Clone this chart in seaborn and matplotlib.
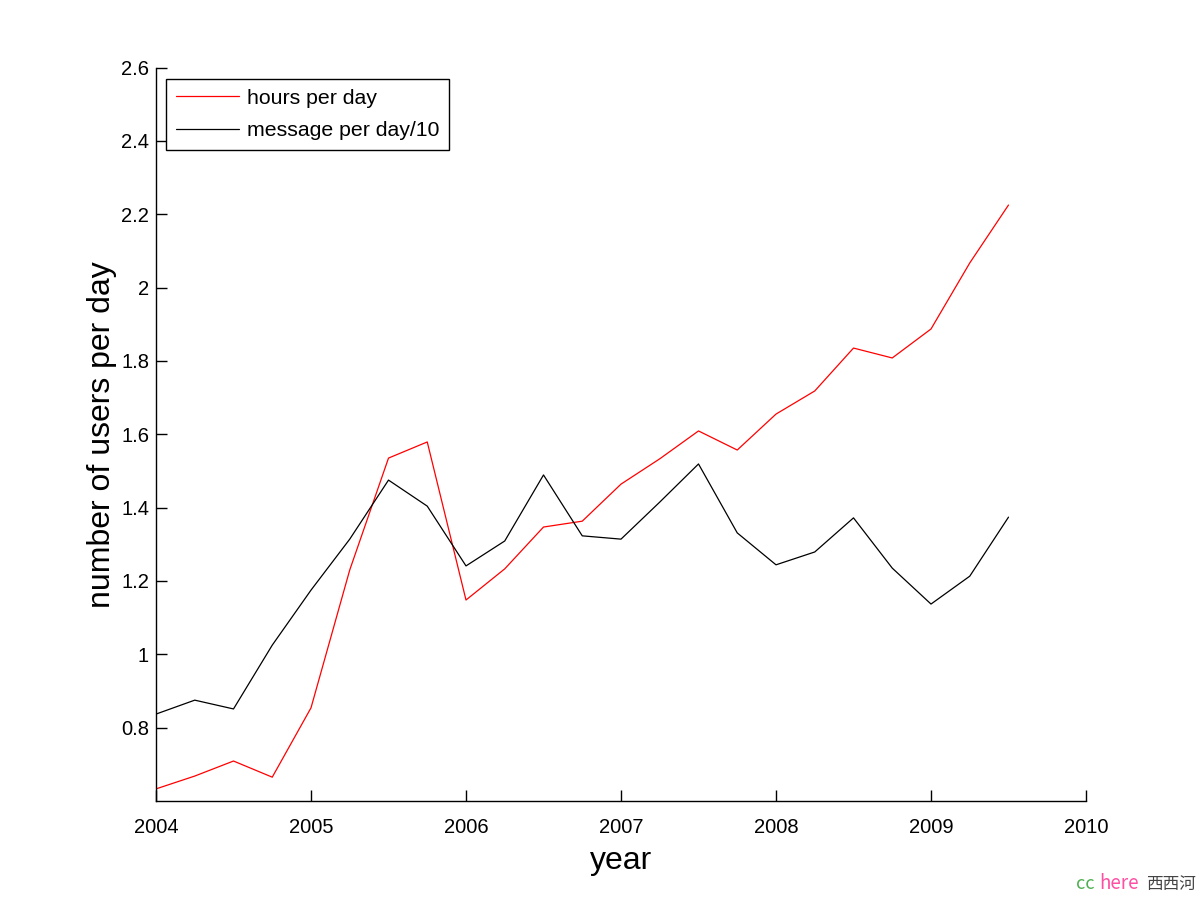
import numpy as np
import pandas as pd
import matplotlib
matplotlib.use("Agg")
import matplotlib.pyplot as plt
import seaborn as sns


# -------------------------------
# DATA (quarterly)
# -------------------------------
years = [2004.00, 2004.25, 2004.50, 2004.75,
         2005.00, 2005.25, 2005.50, 2005.75,
         2006.00, 2006.25, 2006.50, 2006.75,
         2007.00, 2007.25, 2007.50, 2007.75,
         2008.00, 2008.25, 2008.50, 2008.75,
         2009.00, 2009.25, 2009.50]

hours_per_day = [0.633, 0.668, 0.709, 0.665,
                 0.854, 1.230, 1.535, 1.579,
                 1.148, 1.233, 1.347, 1.363,
                 1.464, 1.533, 1.609, 1.557,
                 1.655, 1.718, 1.835, 1.808,
                 1.887, 2.067, 2.225]

messages_per_day_10 = [0.837, 0.875, 0.851, 1.025,
                       1.175, 1.314, 1.475, 1.404,
                       1.241, 1.309, 1.489, 1.323,
                       1.314, 1.415, 1.519, 1.331,
                       1.244, 1.279, 1.372, 1.235,
                       1.137, 1.213, 1.374]

series_names = ["hours per day", "message per day/10"]
series_colors = ["#ff0000", "#000000"]

x_ticks = [2004, 2005, 2006, 2007, 2008, 2009, 2010]
y_ticks = [0.8, 1.0, 1.2, 1.4, 1.6, 1.8, 2.0, 2.2, 2.4, 2.6]
y_tick_labels = ["0.8", "1", "1.2", "1.4", "1.6", "1.8", "2", "2.2", "2.4", "2.6"]


# -------------------------------
# STYLE
# -------------------------------
sns.set_style("ticks")
plt.rcParams["font.family"] = ["Liberation Sans", "DejaVu Sans"]
plt.rcParams["xtick.direction"] = "in"
plt.rcParams["ytick.direction"] = "in"
plt.rcParams["text.color"] = "black"
plt.rcParams["axes.labelcolor"] = "black"


# -------------------------------
# PLOT
# -------------------------------
df = pd.DataFrame({
    "year": years * 2,
    "value": hours_per_day + messages_per_day_10,
    "series": [series_names[0]] * len(years) + [series_names[1]] * len(years),
})

fig = plt.figure(figsize=(12, 9), dpi=100)
ax = fig.add_axes([0.13, 0.11, 0.775, 0.815])

sns.lineplot(data=df, x="year", y="value", hue="series",
             palette=dict(zip(series_names, series_colors)),
             linewidth=0.9, ax=ax)

ax.set_xlim(2004, 2010)
ax.set_ylim(0.6, 2.6)
ax.set_xticks(x_ticks)
ax.set_xticklabels([str(t) for t in x_ticks], fontsize=14.5)
ax.set_yticks(y_ticks)
ax.set_yticklabels(y_tick_labels, fontsize=14.5)
ax.tick_params(length=8, width=1, colors="black")
ax.tick_params(axis="x", pad=12)
ax.tick_params(axis="y", pad=5)

ax.set_xlabel("year", fontsize=23, labelpad=7)
ax.set_ylabel("number of users per day", fontsize=23, labelpad=3)

sns.despine(ax=ax)
for side in ["left", "bottom"]:
    ax.spines[side].set_linewidth(1)
    ax.spines[side].set_color("black")

leg = ax.legend(loc="upper left", bbox_to_anchor=(0.0108, 0.984),
                borderaxespad=0, fontsize=15.3, frameon=True,
                fancybox=False, framealpha=1, edgecolor="black",
                handlelength=3.0, handletextpad=0.35, labelspacing=0.62,
                borderpad=0.45)
leg.get_frame().set_linewidth(1)

# watermark
fig.text(0.897, 0.012, "cc", color="#4caf50", fontsize=13,
         family=["Noto Sans CJK SC", "DejaVu Sans"])
fig.text(0.916, 0.012, "here", color="#ff4fa3", fontsize=13.5,
         family=["Noto Sans CJK SC", "DejaVu Sans"])
fig.text(0.955, 0.012, "西西河", color="#444444", fontsize=12,
         family=["Noto Sans CJK SC", "DejaVu Sans"])

fig.savefig("out.png", dpi=100, facecolor="white")
